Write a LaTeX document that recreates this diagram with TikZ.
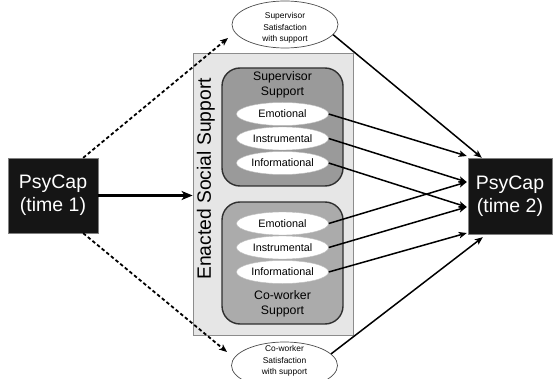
\documentclass[tikz,border=0pt]{standalone}
\usepackage{fontspec}
\setmainfont{Liberation Sans}
\usetikzlibrary{arrows.meta,shapes.geometric,calc}

\definecolor{boxblack}{HTML}{151515}
\definecolor{panelgray}{HTML}{E6E6E6}
\definecolor{panelline}{HTML}{8C8C8C}
\definecolor{supfill}{HTML}{9A9A9A}
\definecolor{cowfill}{HTML}{ABABAB}
\definecolor{groupline}{HTML}{303030}

\tikzset{
  x=1pt, y=1pt,
  timebox/.style={draw=gray, fill=boxblack, text=white, minimum width=#1, minimum height=75pt,
    inner sep=0pt, align=center, font=\fontsize{19.5}{23}\selectfont},
  panel/.style={draw=panelline, fill=panelgray, line width=0.8pt, minimum width=160pt,
    minimum height=282pt, inner sep=0pt},
  groupbox/.style={draw=groupline, fill=#1, line width=1.4pt, rounded corners=18pt,
    minimum width=121pt, inner sep=0pt},
  kind/.style={ellipse, draw=gray!50, fill=white, line width=0.4pt, minimum width=92pt,
    minimum height=23pt, inner sep=0pt, font=\fontsize{10.8}{12}\selectfont},
  satisf/.style={ellipse, draw=black!70, fill=white, line width=0.7pt, minimum width=106pt,
    minimum height=47pt, inner sep=0pt},
  satlabel/.style={align=center, inner sep=0pt, font=\fontsize{8.4}{11.2}\selectfont},
  grouplabel/.style={align=center, font=\fontsize{12.3}{14.5}\selectfont},
  link/.style={line width=1.5pt, -{Stealth[length=8pt,width=6.5pt,inset=2pt]}},
  hint/.style={line width=1.8pt, dash pattern=on 3.5pt off 2.5pt,
    -{Stealth[length=8pt,width=6.5pt,inset=2pt]}},
  mainlink/.style={line width=2.4pt, -{Stealth[length=11pt,width=9pt,inset=3pt]}}
}

\begin{document}
\begin{tikzpicture}
\useasboundingbox (0,0) rectangle (554,378);

% PsyCap boxes
\node[timebox=90pt] (t1) at (53,182.5) {PsyCap\\(time 1)};
\node[timebox=84pt, minimum height=76pt] (t2) at (510,182) {PsyCap\\(time 2)};

% enacted social support panel
\node[panel] (panel) at (273,184) {};
\node[rotate=90, font=\fontsize{19.3}{22}\selectfont] (enacted) at (206,199) {Enacted Social Support};

% supervisor group
\node[groupbox=supfill, minimum height=118pt] (sup) at (282.5,251) {};
\node[grouplabel] (suplab) at (282.5,293) {Supervisor\\Support};
\node[kind] (se) at (282.5,264) {Emotional};
\node[kind] (si) at (282.5,239.5) {Instrumental};
\node[kind] (sf) at (282.5,215) {Informational};

% co-worker group
\node[groupbox=cowfill, minimum height=122pt] (cow) at (282.5,115) {};
\node[kind] (ce) at (282.5,154.5) {Emotional};
\node[kind] (ci) at (282.5,130.5) {Instrumental};
\node[kind] (cf) at (282.5,106) {Informational};
\node[grouplabel] (cowlab) at (282.5,74) {Co-worker\\Support};

% satisfaction ellipses
\node[satisf] (sat1) at (285,353.5) {};
\node[satlabel] (sat1txt) at (285,350) {Supervisor\\Satisfaction\\with support};
\node[satisf] (sat2) at (284.5,12.5) {};
\node[satlabel] (sat2txt) at (284.5,17) {Co-worker\\Satisfaction\\with support};

% arrow ends
\coordinate (tipA) at (228,340);
\coordinate (tipB) at (227,26);
\coordinate (in1) at ([yshift=40pt, xshift=-1pt]t2.west);
\coordinate (in2) at ([yshift=14pt, xshift=-1pt]t2.west);
\coordinate (in3) at ([yshift=-11pt, xshift=-1pt]t2.west);
\coordinate (in4) at ([yshift=-37pt, xshift=-1pt]t2.west);
\coordinate (topin) at ([xshift=14pt]t2.north west);
\coordinate (botin) at ([xshift=15pt, yshift=-3pt]t2.south west);

% connectors
\draw[hint] ([xshift=-15pt]t1.north east) -- (tipA);
\draw[hint] ([xshift=-15pt]t1.south east) -- (tipB);
\draw[mainlink] (t1.east) -- (t1.east -| panel.west);

\draw[link] (sat1.-12) -- (topin);
\draw[link] (sat2.14) -- (botin);

\draw[link] (se.east) -- (in1);
\draw[link] (si.east) -- (in2);
\draw[link] (sf.east) -- (in3);
\draw[link] (ce.east) -- (in2);
\draw[link] (ci.east) -- (in3);
\draw[link] (cf.east) -- (in4);
\end{tikzpicture}
\end{document}
